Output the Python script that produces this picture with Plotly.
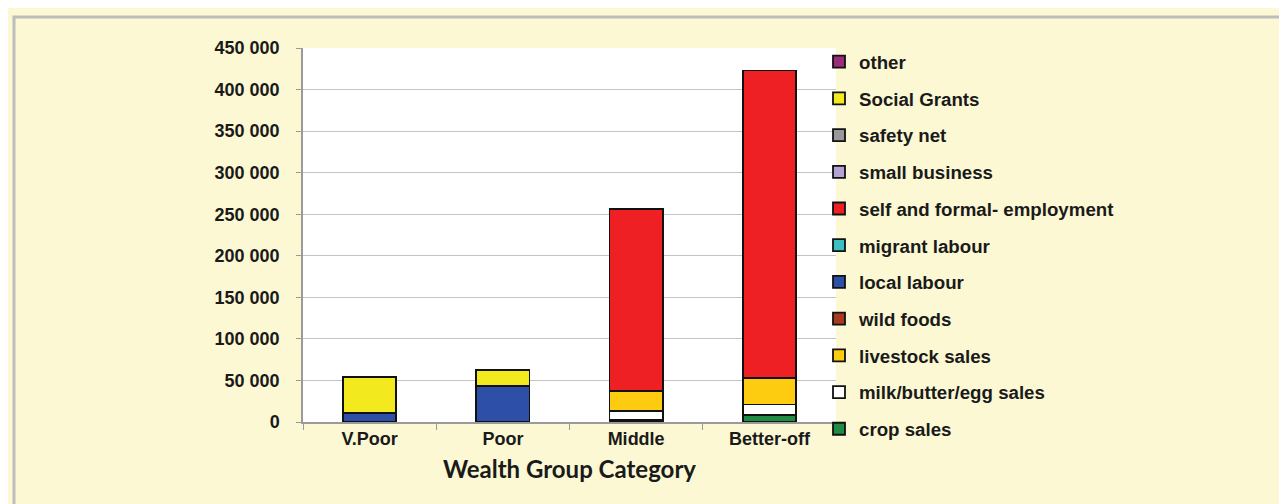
import plotly.graph_objects as go

categories = ["V.Poor", "Poor", "Middle", "Better-off"]

# series, bottom to top of each stack
crop_sales = [0, 0, 2500, 8000]
milk_sales = [0, 0, 11000, 13000]
livestock_sales = [0, 0, 24000, 32000]
wild_foods = [0, 0, 0, 0]
local_labour = [11000, 43500, 0, 0]
migrant_labour = [0, 0, 0, 0]
self_formal = [0, 0, 219000, 370000]
small_business = [0, 0, 0, 0]
safety_net = [0, 0, 0, 0]
social_grants = [43000, 19500, 0, 0]
other = [0, 0, 0, 0]

series_names = ["crop sales", "milk/butter/egg sales", "livestock sales", "wild foods",
                "local labour", "migrant labour", "self and formal- employment",
                "small business", "safety net", "Social Grants", "other"]
series_values = [crop_sales, milk_sales, livestock_sales, wild_foods, local_labour,
                 migrant_labour, self_formal, small_business, safety_net, social_grants, other]
series_colors = ["#1E8C43", "#FFFFFF", "#FDCB0F", "#A8381E", "#2E4FA8", "#3BBFC0",
                 "#EE2024", "#B3A2D6", "#999999", "#F2EA1E", "#9B2C7A"]

y_tickvals = [0, 50000, 100000, 150000, 200000, 250000, 300000, 350000, 400000, 450000]
y_ticktext = ["0", "50 000", "100 000", "150 000", "200 000", "250 000",
              "300 000", "350 000", "400 000", "450 000"]

fig = go.Figure()
for i, (name, vals, col) in enumerate(zip(series_names, series_values, series_colors)):
    fig.add_trace(go.Bar(
        x=categories, y=vals, name=name, legendgroup=name,
        legendrank=1000 - i,
        marker=dict(color=col, line=dict(color="#111111", width=1.8)),
        width=0.4,
    ))

W, H = 1287, 504
L, R, T, B = 295, 459, 40, 90
pw, ph = W - L - R, H - T - B

def px_x(x):
    return (x - L) / pw

def px_y(y):
    return (H - B - y) / ph

fig.update_layout(
    width=W, height=H,
    barmode="stack",
    paper_bgcolor="#FBF8D3",
    plot_bgcolor="#FFFFFF",
    margin=dict(l=L, r=R, t=T, b=B),
    font=dict(family="Liberation Sans, Arial, sans-serif", color="#1a1a1a"),
    showlegend=True,
    legend=dict(
        traceorder="grouped",
        tracegroupgap=9.4,
        x=px_x(811), xanchor="left",
        y=px_y(35), yanchor="top",
        maxheight=1.0,
        bgcolor="rgba(0,0,0,0)",
        font=dict(size=18.7, family="Liberation Sans, Arial, sans-serif", color="#1a1a1a", weight="bold"),
        itemwidth=30,
    ),
    xaxis=dict(
        showline=True, linecolor="#9a9a9a", linewidth=1.5,
        ticks="outside", ticklen=6, tickcolor="#9a9a9a", tickson="boundaries",
        tickfont=dict(size=18, family="Liberation Sans, Arial, sans-serif", weight="bold"),
        title=dict(text="Wealth Group Category",
                   font=dict(size=24, family="Lato, sans-serif", weight="bold"),
                   standoff=13),
        showgrid=False,
    ),
    yaxis=dict(
        range=[0, 450000],
        tickvals=y_tickvals, ticktext=y_ticktext,
        showline=True, linecolor="#9a9a9a", linewidth=1.5,
        ticks="outside", ticklen=5, tickcolor="#9a9a9a",
        showgrid=True, gridcolor="#c4c4c4", gridwidth=1,
        tickfont=dict(size=18, family="Liberation Sans, Arial, sans-serif", weight="bold"),
        ticklabelstandoff=13,
        zeroline=False,
    ),
    shapes=[dict(
        type="rect", xref="paper", yref="paper",
        x0=px_x(6), x1=px_x(1281), y0=px_y(498), y1=px_y(9),
        line=dict(color="#BDBDBD", width=3), fillcolor="rgba(0,0,0,0)", layer="below",
    )],
)

fig.write_html("out.html")
